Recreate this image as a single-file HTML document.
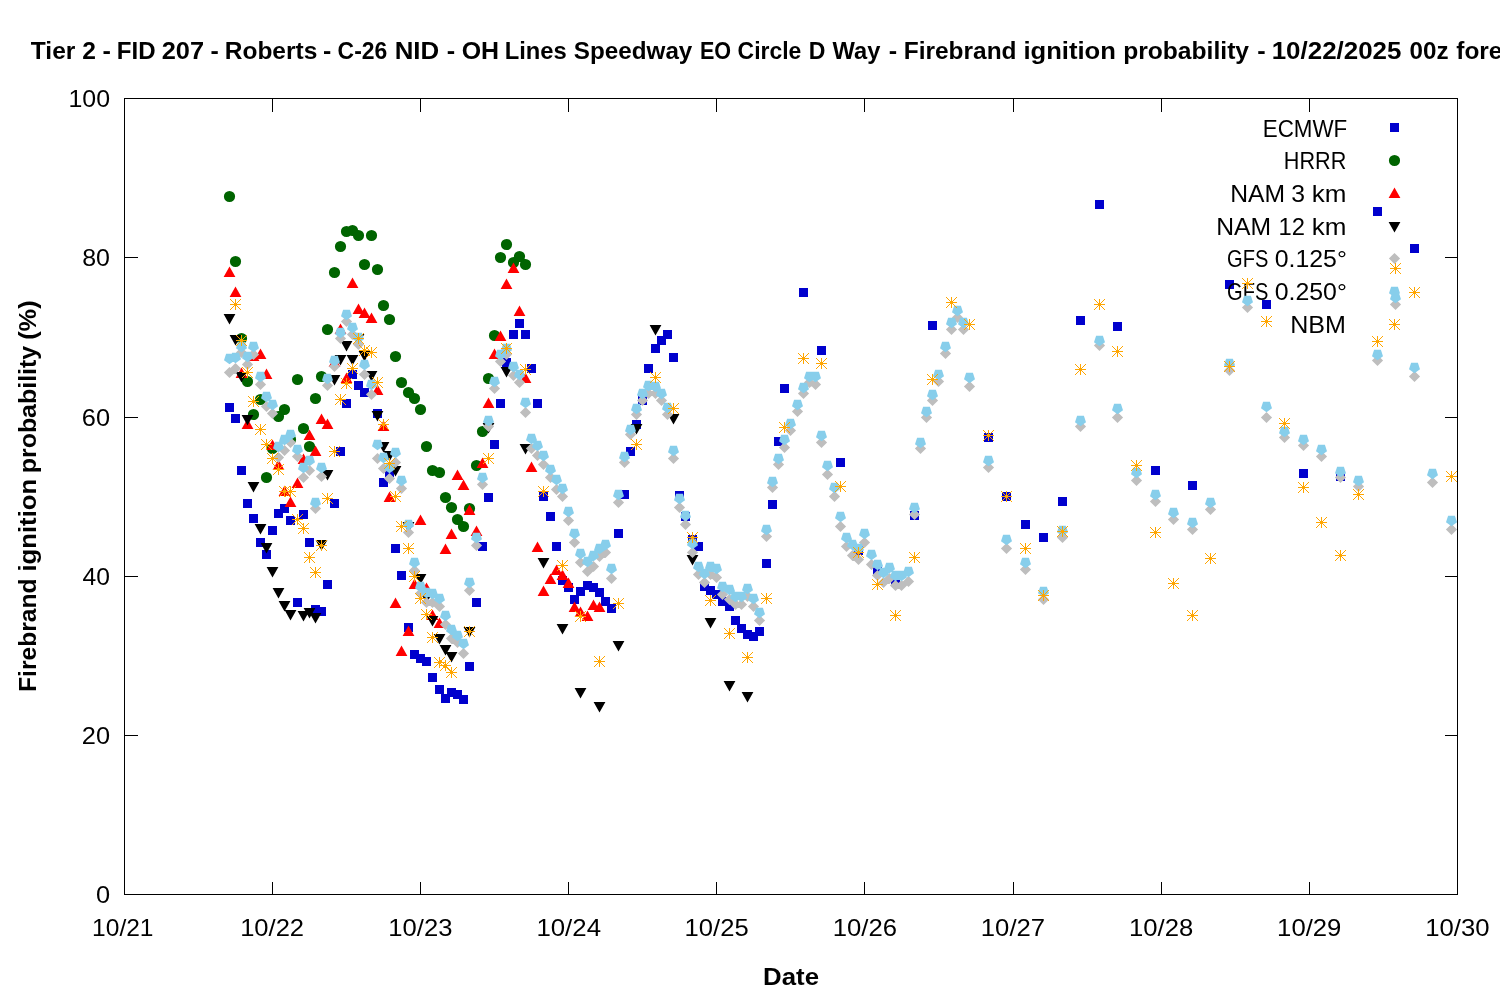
<!DOCTYPE html>
<html lang="en"><head><meta charset="utf-8"><title>Firebrand ignition probability</title>
<style>html,body{margin:0;padding:0;background:#fff;}body{width:1500px;height:1000px;overflow:hidden;}svg{display:block;}text{font-family:'Liberation Sans', sans-serif;fill:#000;}</style>
</head><body>
<svg width="1500" height="1000" viewBox="0 0 1500 1000">
<rect x="0" y="0" width="1500" height="1000" fill="#ffffff"/>
<g stroke="#000" stroke-width="1" fill="none" shape-rendering="crispEdges">
<rect x="124.5" y="98.5" width="1333.0" height="796.0"/>
<path d="M272.5,894.5 v-13 M272.5,98.5 v13 M420.5,894.5 v-13 M420.5,98.5 v13 M568.5,894.5 v-13 M568.5,98.5 v13 M716.5,894.5 v-13 M716.5,98.5 v13 M864.5,894.5 v-13 M864.5,98.5 v13 M1013.5,894.5 v-13 M1013.5,98.5 v13 M1161.5,894.5 v-13 M1161.5,98.5 v13 M1309.5,894.5 v-13 M1309.5,98.5 v13 M124.5,735.5 h13 M1457.5,735.5 h-13 M124.5,576.5 h13 M1457.5,576.5 h-13 M124.5,417.5 h13 M1457.5,417.5 h-13 M124.5,257.5 h13 M1457.5,257.5 h-13"/>
</g>
<text x="95.91" y="903.30" font-size="23.6" textLength="14.13" lengthAdjust="spacingAndGlyphs">0</text>
<text x="81.81" y="744.30" font-size="23.6" textLength="28.22" lengthAdjust="spacingAndGlyphs">20</text>
<text x="82.62" y="585.30" font-size="23.6" textLength="27.40" lengthAdjust="spacingAndGlyphs">40</text>
<text x="81.81" y="426.30" font-size="23.6" textLength="28.22" lengthAdjust="spacingAndGlyphs">60</text>
<text x="82.22" y="266.30" font-size="23.6" textLength="27.80" lengthAdjust="spacingAndGlyphs">80</text>
<text x="68.44" y="107.30" font-size="23.6" textLength="41.58" lengthAdjust="spacingAndGlyphs">100</text>
<text x="92.09" y="936.20" font-size="23.6" textLength="61.43" lengthAdjust="spacingAndGlyphs">10/21</text>
<text x="240.16" y="936.20" font-size="23.6" textLength="63.93" lengthAdjust="spacingAndGlyphs">10/22</text>
<text x="388.30" y="936.20" font-size="23.6" textLength="64.14" lengthAdjust="spacingAndGlyphs">10/23</text>
<text x="536.42" y="936.20" font-size="23.6" textLength="64.61" lengthAdjust="spacingAndGlyphs">10/24</text>
<text x="684.58" y="936.20" font-size="23.6" textLength="64.04" lengthAdjust="spacingAndGlyphs">10/25</text>
<text x="832.71" y="936.20" font-size="23.6" textLength="64.25" lengthAdjust="spacingAndGlyphs">10/26</text>
<text x="980.85" y="936.20" font-size="23.6" textLength="64.25" lengthAdjust="spacingAndGlyphs">10/27</text>
<text x="1128.99" y="936.20" font-size="23.6" textLength="64.25" lengthAdjust="spacingAndGlyphs">10/28</text>
<text x="1277.12" y="936.20" font-size="23.6" textLength="64.25" lengthAdjust="spacingAndGlyphs">10/29</text>
<text x="1425.26" y="936.20" font-size="23.6" textLength="64.35" lengthAdjust="spacingAndGlyphs">10/30</text>
<text y="58.50" font-size="24.3" font-weight="bold"><tspan x="30.80" textLength="44.55" lengthAdjust="spacingAndGlyphs">Tier</tspan> <tspan x="82.23" textLength="13.68" lengthAdjust="spacingAndGlyphs">2</tspan> <tspan x="102.51" textLength="8.40" lengthAdjust="spacingAndGlyphs">-</tspan> <tspan x="116.80" textLength="38.74" lengthAdjust="spacingAndGlyphs">FID</tspan> <tspan x="161.71" textLength="42.32" lengthAdjust="spacingAndGlyphs">207</tspan> <tspan x="210.42" textLength="8.27" lengthAdjust="spacingAndGlyphs">-</tspan> <tspan x="224.77" textLength="92.52" lengthAdjust="spacingAndGlyphs">Roberts</tspan> <tspan x="322.92" textLength="8.27" lengthAdjust="spacingAndGlyphs">-</tspan> <tspan x="337.58" textLength="49.69" lengthAdjust="spacingAndGlyphs">C-26</tspan> <tspan x="394.68" textLength="44.51" lengthAdjust="spacingAndGlyphs">NID</tspan> <tspan x="446.71" textLength="8.40" lengthAdjust="spacingAndGlyphs">-</tspan> <tspan x="461.72" textLength="37.42" lengthAdjust="spacingAndGlyphs">OH</tspan> <tspan x="504.72" textLength="62.05" lengthAdjust="spacingAndGlyphs">Lines</tspan> <tspan x="573.82" textLength="118.52" lengthAdjust="spacingAndGlyphs">Speedway</tspan> <tspan x="699.95" textLength="31.15" lengthAdjust="spacingAndGlyphs">EO</tspan> <tspan x="737.58" textLength="63.79" lengthAdjust="spacingAndGlyphs">Circle</tspan> <tspan x="808.86" textLength="16.64" lengthAdjust="spacingAndGlyphs">D</tspan> <tspan x="832.50" textLength="47.85" lengthAdjust="spacingAndGlyphs">Way</tspan> <tspan x="888.71" textLength="8.40" lengthAdjust="spacingAndGlyphs">-</tspan> <tspan x="903.77" textLength="112.79" lengthAdjust="spacingAndGlyphs">Firebrand</tspan> <tspan x="1023.40" textLength="92.54" lengthAdjust="spacingAndGlyphs">ignition</tspan> <tspan x="1123.16" textLength="125.88" lengthAdjust="spacingAndGlyphs">probability</tspan> <tspan x="1257.21" textLength="8.40" lengthAdjust="spacingAndGlyphs">-</tspan> <tspan x="1271.68" textLength="129.77" lengthAdjust="spacingAndGlyphs">10/22/2025</tspan> <tspan x="1409.54" textLength="39.01" lengthAdjust="spacingAndGlyphs">00z</tspan> <tspan x="1456.32" textLength="95.00" lengthAdjust="spacingAndGlyphs">forecast</tspan></text>
<text x="763.09" y="984.90" font-size="24.3" font-weight="bold" textLength="55.96" lengthAdjust="spacingAndGlyphs">Date</text>
<g transform="translate(36,0) rotate(-90)">
<text y="0.00" font-size="24.3" font-weight="bold"><tspan x="-691.94" textLength="113.51" lengthAdjust="spacingAndGlyphs">Firebrand</tspan> <tspan x="-571.61" textLength="92.85" lengthAdjust="spacingAndGlyphs">ignition</tspan> <tspan x="-473.26" textLength="127.40" lengthAdjust="spacingAndGlyphs">probability</tspan> <tspan x="-339.89" textLength="39.51" lengthAdjust="spacingAndGlyphs">(%)</tspan></text>
</g>
<text x="1262.75" y="136.80" font-size="23.6" textLength="84.48" lengthAdjust="spacingAndGlyphs">ECMWF</text>
<path fill="#0000cd" d="M1390,123h9v9h-9zM225,403h9v9h-9zM231,414h9v9h-9zM237,466h9v9h-9zM243,499h9v9h-9zM249,514h9v9h-9zM256,538h9v9h-9zM262,550h9v9h-9zM268,526h9v9h-9zM274,509h9v9h-9zM280,504h9v9h-9zM286,516h9v9h-9zM293,598h9v9h-9zM299,510h9v9h-9zM305,538h9v9h-9zM311,605h9v9h-9zM317,607h9v9h-9zM323,580h9v9h-9zM330,499h9v9h-9zM336,447h9v9h-9zM342,399h9v9h-9zM348,370h9v9h-9zM354,381h9v9h-9zM360,388h9v9h-9zM373,409h9v9h-9zM379,478h9v9h-9zM385,468h9v9h-9zM391,544h9v9h-9zM397,571h9v9h-9zM404,623h9v9h-9zM410,650h9v9h-9zM416,654h9v9h-9zM422,657h9v9h-9zM428,673h9v9h-9zM435,685h9v9h-9zM441,694h9v9h-9zM447,688h9v9h-9zM453,690h9v9h-9zM459,695h9v9h-9zM465,662h9v9h-9zM472,598h9v9h-9zM478,542h9v9h-9zM484,493h9v9h-9zM490,440h9v9h-9zM496,399h9v9h-9zM502,358h9v9h-9zM509,330h9v9h-9zM515,319h9v9h-9zM521,330h9v9h-9zM527,364h9v9h-9zM533,399h9v9h-9zM539,492h9v9h-9zM546,512h9v9h-9zM552,542h9v9h-9zM558,576h9v9h-9zM564,583h9v9h-9zM570,595h9v9h-9zM576,587h9v9h-9zM583,581h9v9h-9zM589,583h9v9h-9zM595,588h9v9h-9zM601,597h9v9h-9zM607,604h9v9h-9zM614,529h9v9h-9zM620,490h9v9h-9zM626,447h9v9h-9zM632,420h9v9h-9zM638,396h9v9h-9zM644,364h9v9h-9zM651,344h9v9h-9zM657,336h9v9h-9zM663,330h9v9h-9zM669,353h9v9h-9zM675,491h9v9h-9zM681,512h9v9h-9zM688,535h9v9h-9zM694,542h9v9h-9zM700,582h9v9h-9zM706,586h9v9h-9zM712,590h9v9h-9zM718,597h9v9h-9zM725,602h9v9h-9zM731,616h9v9h-9zM737,624h9v9h-9zM743,630h9v9h-9zM749,632h9v9h-9zM755,627h9v9h-9zM762,559h9v9h-9zM768,500h9v9h-9zM774,437h9v9h-9zM780,384h9v9h-9zM799,288h9v9h-9zM817,346h9v9h-9zM836,458h9v9h-9zM854,546h9v9h-9zM873,566h9v9h-9zM891,576h9v9h-9zM910,511h9v9h-9zM928,321h9v9h-9zM984,433h9v9h-9zM1002,492h9v9h-9zM1021,520h9v9h-9zM1039,533h9v9h-9zM1058,497h9v9h-9zM1076,316h9v9h-9zM1095,200h9v9h-9zM1113,322h9v9h-9zM1151,466h9v9h-9zM1188,481h9v9h-9zM1225,280h9v9h-9zM1262,300h9v9h-9zM1299,469h9v9h-9zM1336,472h9v9h-9zM1373,207h9v9h-9zM1410,244h9v9h-9z"/>
<text x="1283.81" y="169.45" font-size="23.6" textLength="62.44" lengthAdjust="spacingAndGlyphs">HRRR</text>
<path fill="#006400" d="M1388.9,160.5a5.6,5.6 0 1,0 11.2,0a5.6,5.6 0 1,0 -11.2,0zM223.9,196.5a5.6,5.6 0 1,0 11.2,0a5.6,5.6 0 1,0 -11.2,0zM229.9,261.5a5.6,5.6 0 1,0 11.2,0a5.6,5.6 0 1,0 -11.2,0zM235.9,338.5a5.6,5.6 0 1,0 11.2,0a5.6,5.6 0 1,0 -11.2,0zM241.9,381.5a5.6,5.6 0 1,0 11.2,0a5.6,5.6 0 1,0 -11.2,0zM247.9,414.5a5.6,5.6 0 1,0 11.2,0a5.6,5.6 0 1,0 -11.2,0zM254.9,399.5a5.6,5.6 0 1,0 11.2,0a5.6,5.6 0 1,0 -11.2,0zM260.9,477.5a5.6,5.6 0 1,0 11.2,0a5.6,5.6 0 1,0 -11.2,0zM266.9,448.5a5.6,5.6 0 1,0 11.2,0a5.6,5.6 0 1,0 -11.2,0zM272.9,416.5a5.6,5.6 0 1,0 11.2,0a5.6,5.6 0 1,0 -11.2,0zM278.9,409.5a5.6,5.6 0 1,0 11.2,0a5.6,5.6 0 1,0 -11.2,0zM284.9,439.5a5.6,5.6 0 1,0 11.2,0a5.6,5.6 0 1,0 -11.2,0zM291.9,379.5a5.6,5.6 0 1,0 11.2,0a5.6,5.6 0 1,0 -11.2,0zM297.9,428.5a5.6,5.6 0 1,0 11.2,0a5.6,5.6 0 1,0 -11.2,0zM303.9,446.5a5.6,5.6 0 1,0 11.2,0a5.6,5.6 0 1,0 -11.2,0zM309.9,398.5a5.6,5.6 0 1,0 11.2,0a5.6,5.6 0 1,0 -11.2,0zM315.9,376.5a5.6,5.6 0 1,0 11.2,0a5.6,5.6 0 1,0 -11.2,0zM321.9,329.5a5.6,5.6 0 1,0 11.2,0a5.6,5.6 0 1,0 -11.2,0zM328.9,272.5a5.6,5.6 0 1,0 11.2,0a5.6,5.6 0 1,0 -11.2,0zM334.9,246.5a5.6,5.6 0 1,0 11.2,0a5.6,5.6 0 1,0 -11.2,0zM340.9,231.5a5.6,5.6 0 1,0 11.2,0a5.6,5.6 0 1,0 -11.2,0zM346.9,230.5a5.6,5.6 0 1,0 11.2,0a5.6,5.6 0 1,0 -11.2,0zM352.9,235.5a5.6,5.6 0 1,0 11.2,0a5.6,5.6 0 1,0 -11.2,0zM358.9,264.5a5.6,5.6 0 1,0 11.2,0a5.6,5.6 0 1,0 -11.2,0zM365.9,235.5a5.6,5.6 0 1,0 11.2,0a5.6,5.6 0 1,0 -11.2,0zM371.9,269.5a5.6,5.6 0 1,0 11.2,0a5.6,5.6 0 1,0 -11.2,0zM377.9,305.5a5.6,5.6 0 1,0 11.2,0a5.6,5.6 0 1,0 -11.2,0zM383.9,319.5a5.6,5.6 0 1,0 11.2,0a5.6,5.6 0 1,0 -11.2,0zM389.9,356.5a5.6,5.6 0 1,0 11.2,0a5.6,5.6 0 1,0 -11.2,0zM395.9,382.5a5.6,5.6 0 1,0 11.2,0a5.6,5.6 0 1,0 -11.2,0zM402.9,392.5a5.6,5.6 0 1,0 11.2,0a5.6,5.6 0 1,0 -11.2,0zM408.9,398.5a5.6,5.6 0 1,0 11.2,0a5.6,5.6 0 1,0 -11.2,0zM414.9,409.5a5.6,5.6 0 1,0 11.2,0a5.6,5.6 0 1,0 -11.2,0zM420.9,446.5a5.6,5.6 0 1,0 11.2,0a5.6,5.6 0 1,0 -11.2,0zM426.9,470.5a5.6,5.6 0 1,0 11.2,0a5.6,5.6 0 1,0 -11.2,0zM433.9,472.5a5.6,5.6 0 1,0 11.2,0a5.6,5.6 0 1,0 -11.2,0zM439.9,497.5a5.6,5.6 0 1,0 11.2,0a5.6,5.6 0 1,0 -11.2,0zM445.9,507.5a5.6,5.6 0 1,0 11.2,0a5.6,5.6 0 1,0 -11.2,0zM451.9,519.5a5.6,5.6 0 1,0 11.2,0a5.6,5.6 0 1,0 -11.2,0zM457.9,526.5a5.6,5.6 0 1,0 11.2,0a5.6,5.6 0 1,0 -11.2,0zM463.9,508.5a5.6,5.6 0 1,0 11.2,0a5.6,5.6 0 1,0 -11.2,0zM470.9,465.5a5.6,5.6 0 1,0 11.2,0a5.6,5.6 0 1,0 -11.2,0zM476.9,431.5a5.6,5.6 0 1,0 11.2,0a5.6,5.6 0 1,0 -11.2,0zM482.9,378.5a5.6,5.6 0 1,0 11.2,0a5.6,5.6 0 1,0 -11.2,0zM488.9,335.5a5.6,5.6 0 1,0 11.2,0a5.6,5.6 0 1,0 -11.2,0zM494.9,257.5a5.6,5.6 0 1,0 11.2,0a5.6,5.6 0 1,0 -11.2,0zM500.9,244.5a5.6,5.6 0 1,0 11.2,0a5.6,5.6 0 1,0 -11.2,0zM507.9,262.5a5.6,5.6 0 1,0 11.2,0a5.6,5.6 0 1,0 -11.2,0zM513.9,256.5a5.6,5.6 0 1,0 11.2,0a5.6,5.6 0 1,0 -11.2,0zM519.9,264.5a5.6,5.6 0 1,0 11.2,0a5.6,5.6 0 1,0 -11.2,0z"/>
<text y="202.10" font-size="23.6"><tspan x="1230.27" textLength="54.89" lengthAdjust="spacingAndGlyphs">NAM</tspan> <tspan x="1291.23" textLength="13.78" lengthAdjust="spacingAndGlyphs">3</tspan> <tspan x="1311.87" textLength="34.67" lengthAdjust="spacingAndGlyphs">km</tspan></text>
<path fill="#ff0000" d="M1394.5,187.6l5.9,10.4h-11.8zM229.5,266.6l5.9,10.4h-11.8zM235.5,286.6l5.9,10.4h-11.8zM241.5,367.6l5.9,10.4h-11.8zM247.5,418.6l5.9,10.4h-11.8zM253.5,350.6l5.9,10.4h-11.8zM260.5,348.6l5.9,10.4h-11.8zM266.5,368.6l5.9,10.4h-11.8zM272.5,439.6l5.9,10.4h-11.8zM278.5,459.6l5.9,10.4h-11.8zM284.5,485.6l5.9,10.4h-11.8zM290.5,496.6l5.9,10.4h-11.8zM297.5,477.6l5.9,10.4h-11.8zM303.5,453.6l5.9,10.4h-11.8zM309.5,429.6l5.9,10.4h-11.8zM315.5,445.6l5.9,10.4h-11.8zM321.5,413.6l5.9,10.4h-11.8zM327.5,418.6l5.9,10.4h-11.8zM334.5,356.6l5.9,10.4h-11.8zM340.5,323.6l5.9,10.4h-11.8zM346.5,372.6l5.9,10.4h-11.8zM352.5,277.6l5.9,10.4h-11.8zM358.5,303.6l5.9,10.4h-11.8zM364.5,307.6l5.9,10.4h-11.8zM371.5,312.6l5.9,10.4h-11.8zM377.5,384.6l5.9,10.4h-11.8zM383.5,420.6l5.9,10.4h-11.8zM389.5,491.6l5.9,10.4h-11.8zM395.5,597.6l5.9,10.4h-11.8zM401.5,645.6l5.9,10.4h-11.8zM408.5,625.6l5.9,10.4h-11.8zM414.5,578.6l5.9,10.4h-11.8zM420.5,514.6l5.9,10.4h-11.8zM426.5,582.6l5.9,10.4h-11.8zM432.5,609.6l5.9,10.4h-11.8zM439.5,617.6l5.9,10.4h-11.8zM445.5,543.6l5.9,10.4h-11.8zM451.5,528.6l5.9,10.4h-11.8zM457.5,469.6l5.9,10.4h-11.8zM463.5,479.6l5.9,10.4h-11.8zM469.5,504.6l5.9,10.4h-11.8zM476.5,525.6l5.9,10.4h-11.8zM482.5,457.6l5.9,10.4h-11.8zM488.5,397.6l5.9,10.4h-11.8zM494.5,348.6l5.9,10.4h-11.8zM500.5,330.6l5.9,10.4h-11.8zM506.5,278.6l5.9,10.4h-11.8zM513.5,262.6l5.9,10.4h-11.8zM519.5,305.6l5.9,10.4h-11.8zM525.5,372.6l5.9,10.4h-11.8zM531.5,461.6l5.9,10.4h-11.8zM537.5,541.6l5.9,10.4h-11.8zM543.5,585.6l5.9,10.4h-11.8zM550.5,573.6l5.9,10.4h-11.8zM556.5,564.6l5.9,10.4h-11.8zM562.5,569.6l5.9,10.4h-11.8zM568.5,577.6l5.9,10.4h-11.8zM574.5,601.6l5.9,10.4h-11.8zM580.5,606.6l5.9,10.4h-11.8zM587.5,610.6l5.9,10.4h-11.8zM593.5,599.6l5.9,10.4h-11.8zM599.5,601.6l5.9,10.4h-11.8z"/>
<text y="234.75" font-size="23.6"><tspan x="1216.27" textLength="54.89" lengthAdjust="spacingAndGlyphs">NAM</tspan> <tspan x="1278.51" textLength="26.45" lengthAdjust="spacingAndGlyphs">12</tspan> <tspan x="1311.87" textLength="34.67" lengthAdjust="spacingAndGlyphs">km</tspan></text>
<path fill="#000000" d="M1394.5,232.4l5.9,-10.4h-11.8zM229.5,324.4l5.9,-10.4h-11.8zM235.5,345.4l5.9,-10.4h-11.8zM241.5,382.4l5.9,-10.4h-11.8zM247.5,425.4l5.9,-10.4h-11.8zM253.5,492.4l5.9,-10.4h-11.8zM260.5,534.4l5.9,-10.4h-11.8zM266.5,553.4l5.9,-10.4h-11.8zM272.5,577.4l5.9,-10.4h-11.8zM278.5,598.4l5.9,-10.4h-11.8zM284.5,611.4l5.9,-10.4h-11.8zM290.5,620.4l5.9,-10.4h-11.8zM303.5,621.4l5.9,-10.4h-11.8zM309.5,618.4l5.9,-10.4h-11.8zM315.5,623.4l5.9,-10.4h-11.8zM321.5,550.4l5.9,-10.4h-11.8zM327.5,480.4l5.9,-10.4h-11.8zM334.5,385.4l5.9,-10.4h-11.8zM340.5,365.4l5.9,-10.4h-11.8zM346.5,351.4l5.9,-10.4h-11.8zM352.5,365.4l5.9,-10.4h-11.8zM358.5,344.4l5.9,-10.4h-11.8zM364.5,361.4l5.9,-10.4h-11.8zM371.5,381.4l5.9,-10.4h-11.8zM377.5,421.4l5.9,-10.4h-11.8zM383.5,452.4l5.9,-10.4h-11.8zM389.5,461.4l5.9,-10.4h-11.8zM395.5,476.4l5.9,-10.4h-11.8zM408.5,532.4l5.9,-10.4h-11.8zM420.5,584.4l5.9,-10.4h-11.8zM426.5,603.4l5.9,-10.4h-11.8zM432.5,626.4l5.9,-10.4h-11.8zM439.5,644.4l5.9,-10.4h-11.8zM445.5,655.4l5.9,-10.4h-11.8zM451.5,662.4l5.9,-10.4h-11.8zM469.5,637.4l5.9,-10.4h-11.8zM488.5,433.4l5.9,-10.4h-11.8zM506.5,377.4l5.9,-10.4h-11.8zM525.5,454.4l5.9,-10.4h-11.8zM543.5,568.4l5.9,-10.4h-11.8zM562.5,634.4l5.9,-10.4h-11.8zM580.5,698.4l5.9,-10.4h-11.8zM599.5,712.4l5.9,-10.4h-11.8zM618.5,651.4l5.9,-10.4h-11.8zM636.5,434.4l5.9,-10.4h-11.8zM655.5,335.4l5.9,-10.4h-11.8zM673.5,424.4l5.9,-10.4h-11.8zM692.5,565.4l5.9,-10.4h-11.8zM710.5,628.4l5.9,-10.4h-11.8zM729.5,691.4l5.9,-10.4h-11.8zM747.5,702.4l5.9,-10.4h-11.8z"/>
<text y="267.40" font-size="23.6"><tspan x="1227.06" textLength="41.28" lengthAdjust="spacingAndGlyphs">GFS</tspan> <tspan x="1274.72" textLength="72.17" lengthAdjust="spacingAndGlyphs">0.125°</tspan></text>
<path fill="#bebebe" d="M1394.5,252.9l5.6,5.6l-5.6,5.6l-5.6,-5.6zM229.5,366.9l5.6,5.6l-5.6,5.6l-5.6,-5.6zM235.5,362.9l5.6,5.6l-5.6,5.6l-5.6,-5.6zM241.5,346.9l5.6,5.6l-5.6,5.6l-5.6,-5.6zM247.5,358.9l5.6,5.6l-5.6,5.6l-5.6,-5.6zM253.5,348.9l5.6,5.6l-5.6,5.6l-5.6,-5.6zM260.5,378.9l5.6,5.6l-5.6,5.6l-5.6,-5.6zM266.5,400.9l5.6,5.6l-5.6,5.6l-5.6,-5.6zM272.5,407.9l5.6,5.6l-5.6,5.6l-5.6,-5.6zM278.5,451.9l5.6,5.6l-5.6,5.6l-5.6,-5.6zM284.5,444.9l5.6,5.6l-5.6,5.6l-5.6,-5.6zM290.5,436.9l5.6,5.6l-5.6,5.6l-5.6,-5.6zM297.5,450.9l5.6,5.6l-5.6,5.6l-5.6,-5.6zM303.5,471.9l5.6,5.6l-5.6,5.6l-5.6,-5.6zM309.5,464.9l5.6,5.6l-5.6,5.6l-5.6,-5.6zM315.5,502.9l5.6,5.6l-5.6,5.6l-5.6,-5.6zM321.5,470.9l5.6,5.6l-5.6,5.6l-5.6,-5.6zM327.5,379.9l5.6,5.6l-5.6,5.6l-5.6,-5.6zM334.5,360.9l5.6,5.6l-5.6,5.6l-5.6,-5.6zM340.5,332.9l5.6,5.6l-5.6,5.6l-5.6,-5.6zM346.5,315.9l5.6,5.6l-5.6,5.6l-5.6,-5.6zM352.5,328.9l5.6,5.6l-5.6,5.6l-5.6,-5.6zM358.5,338.9l5.6,5.6l-5.6,5.6l-5.6,-5.6zM364.5,368.9l5.6,5.6l-5.6,5.6l-5.6,-5.6zM371.5,388.9l5.6,5.6l-5.6,5.6l-5.6,-5.6zM377.5,452.9l5.6,5.6l-5.6,5.6l-5.6,-5.6zM383.5,462.9l5.6,5.6l-5.6,5.6l-5.6,-5.6zM389.5,472.9l5.6,5.6l-5.6,5.6l-5.6,-5.6zM395.5,456.9l5.6,5.6l-5.6,5.6l-5.6,-5.6zM401.5,482.9l5.6,5.6l-5.6,5.6l-5.6,-5.6zM408.5,526.9l5.6,5.6l-5.6,5.6l-5.6,-5.6zM414.5,564.9l5.6,5.6l-5.6,5.6l-5.6,-5.6zM420.5,587.9l5.6,5.6l-5.6,5.6l-5.6,-5.6zM426.5,596.9l5.6,5.6l-5.6,5.6l-5.6,-5.6zM432.5,596.9l5.6,5.6l-5.6,5.6l-5.6,-5.6zM439.5,600.9l5.6,5.6l-5.6,5.6l-5.6,-5.6zM445.5,618.9l5.6,5.6l-5.6,5.6l-5.6,-5.6zM451.5,632.9l5.6,5.6l-5.6,5.6l-5.6,-5.6zM457.5,636.9l5.6,5.6l-5.6,5.6l-5.6,-5.6zM463.5,647.9l5.6,5.6l-5.6,5.6l-5.6,-5.6zM469.5,584.9l5.6,5.6l-5.6,5.6l-5.6,-5.6zM476.5,539.9l5.6,5.6l-5.6,5.6l-5.6,-5.6zM482.5,478.9l5.6,5.6l-5.6,5.6l-5.6,-5.6zM488.5,420.9l5.6,5.6l-5.6,5.6l-5.6,-5.6zM494.5,382.9l5.6,5.6l-5.6,5.6l-5.6,-5.6zM500.5,355.9l5.6,5.6l-5.6,5.6l-5.6,-5.6zM506.5,348.9l5.6,5.6l-5.6,5.6l-5.6,-5.6zM513.5,369.9l5.6,5.6l-5.6,5.6l-5.6,-5.6zM519.5,376.9l5.6,5.6l-5.6,5.6l-5.6,-5.6zM525.5,406.9l5.6,5.6l-5.6,5.6l-5.6,-5.6zM531.5,442.9l5.6,5.6l-5.6,5.6l-5.6,-5.6zM537.5,449.9l5.6,5.6l-5.6,5.6l-5.6,-5.6zM543.5,458.9l5.6,5.6l-5.6,5.6l-5.6,-5.6zM550.5,471.9l5.6,5.6l-5.6,5.6l-5.6,-5.6zM556.5,483.9l5.6,5.6l-5.6,5.6l-5.6,-5.6zM562.5,490.9l5.6,5.6l-5.6,5.6l-5.6,-5.6zM568.5,514.9l5.6,5.6l-5.6,5.6l-5.6,-5.6zM574.5,536.9l5.6,5.6l-5.6,5.6l-5.6,-5.6zM580.5,556.9l5.6,5.6l-5.6,5.6l-5.6,-5.6zM587.5,565.9l5.6,5.6l-5.6,5.6l-5.6,-5.6zM593.5,560.9l5.6,5.6l-5.6,5.6l-5.6,-5.6zM599.5,550.9l5.6,5.6l-5.6,5.6l-5.6,-5.6zM605.5,546.9l5.6,5.6l-5.6,5.6l-5.6,-5.6zM611.5,572.9l5.6,5.6l-5.6,5.6l-5.6,-5.6zM618.5,496.9l5.6,5.6l-5.6,5.6l-5.6,-5.6zM624.5,456.9l5.6,5.6l-5.6,5.6l-5.6,-5.6zM630.5,428.9l5.6,5.6l-5.6,5.6l-5.6,-5.6zM636.5,408.9l5.6,5.6l-5.6,5.6l-5.6,-5.6zM642.5,394.9l5.6,5.6l-5.6,5.6l-5.6,-5.6zM648.5,387.9l5.6,5.6l-5.6,5.6l-5.6,-5.6zM655.5,387.9l5.6,5.6l-5.6,5.6l-5.6,-5.6zM661.5,394.9l5.6,5.6l-5.6,5.6l-5.6,-5.6zM667.5,408.9l5.6,5.6l-5.6,5.6l-5.6,-5.6zM673.5,452.9l5.6,5.6l-5.6,5.6l-5.6,-5.6zM679.5,501.9l5.6,5.6l-5.6,5.6l-5.6,-5.6zM685.5,518.9l5.6,5.6l-5.6,5.6l-5.6,-5.6zM692.5,546.9l5.6,5.6l-5.6,5.6l-5.6,-5.6zM698.5,568.9l5.6,5.6l-5.6,5.6l-5.6,-5.6zM704.5,576.9l5.6,5.6l-5.6,5.6l-5.6,-5.6zM710.5,568.9l5.6,5.6l-5.6,5.6l-5.6,-5.6zM716.5,571.9l5.6,5.6l-5.6,5.6l-5.6,-5.6zM722.5,588.9l5.6,5.6l-5.6,5.6l-5.6,-5.6zM729.5,593.9l5.6,5.6l-5.6,5.6l-5.6,-5.6zM735.5,598.9l5.6,5.6l-5.6,5.6l-5.6,-5.6zM741.5,598.9l5.6,5.6l-5.6,5.6l-5.6,-5.6zM747.5,590.9l5.6,5.6l-5.6,5.6l-5.6,-5.6zM753.5,600.9l5.6,5.6l-5.6,5.6l-5.6,-5.6zM759.5,614.9l5.6,5.6l-5.6,5.6l-5.6,-5.6zM766.5,530.9l5.6,5.6l-5.6,5.6l-5.6,-5.6zM772.5,481.9l5.6,5.6l-5.6,5.6l-5.6,-5.6zM778.5,458.9l5.6,5.6l-5.6,5.6l-5.6,-5.6zM784.5,441.9l5.6,5.6l-5.6,5.6l-5.6,-5.6zM790.5,424.9l5.6,5.6l-5.6,5.6l-5.6,-5.6zM797.5,405.9l5.6,5.6l-5.6,5.6l-5.6,-5.6zM803.5,387.9l5.6,5.6l-5.6,5.6l-5.6,-5.6zM809.5,376.9l5.6,5.6l-5.6,5.6l-5.6,-5.6zM815.5,378.9l5.6,5.6l-5.6,5.6l-5.6,-5.6zM821.5,436.9l5.6,5.6l-5.6,5.6l-5.6,-5.6zM827.5,468.9l5.6,5.6l-5.6,5.6l-5.6,-5.6zM834.5,490.9l5.6,5.6l-5.6,5.6l-5.6,-5.6zM840.5,520.9l5.6,5.6l-5.6,5.6l-5.6,-5.6zM846.5,540.9l5.6,5.6l-5.6,5.6l-5.6,-5.6zM852.5,549.9l5.6,5.6l-5.6,5.6l-5.6,-5.6zM858.5,553.9l5.6,5.6l-5.6,5.6l-5.6,-5.6zM864.5,536.9l5.6,5.6l-5.6,5.6l-5.6,-5.6zM871.5,558.9l5.6,5.6l-5.6,5.6l-5.6,-5.6zM877.5,569.9l5.6,5.6l-5.6,5.6l-5.6,-5.6zM883.5,576.9l5.6,5.6l-5.6,5.6l-5.6,-5.6zM889.5,572.9l5.6,5.6l-5.6,5.6l-5.6,-5.6zM895.5,579.9l5.6,5.6l-5.6,5.6l-5.6,-5.6zM901.5,579.9l5.6,5.6l-5.6,5.6l-5.6,-5.6zM908.5,575.9l5.6,5.6l-5.6,5.6l-5.6,-5.6zM914.5,508.9l5.6,5.6l-5.6,5.6l-5.6,-5.6zM920.5,442.9l5.6,5.6l-5.6,5.6l-5.6,-5.6zM926.5,411.9l5.6,5.6l-5.6,5.6l-5.6,-5.6zM932.5,394.9l5.6,5.6l-5.6,5.6l-5.6,-5.6zM938.5,375.9l5.6,5.6l-5.6,5.6l-5.6,-5.6zM945.5,347.9l5.6,5.6l-5.6,5.6l-5.6,-5.6zM951.5,323.9l5.6,5.6l-5.6,5.6l-5.6,-5.6zM957.5,311.9l5.6,5.6l-5.6,5.6l-5.6,-5.6zM963.5,323.9l5.6,5.6l-5.6,5.6l-5.6,-5.6zM969.5,380.9l5.6,5.6l-5.6,5.6l-5.6,-5.6zM988.5,461.9l5.6,5.6l-5.6,5.6l-5.6,-5.6zM1006.5,542.9l5.6,5.6l-5.6,5.6l-5.6,-5.6zM1025.5,563.9l5.6,5.6l-5.6,5.6l-5.6,-5.6zM1043.5,593.9l5.6,5.6l-5.6,5.6l-5.6,-5.6zM1062.5,531.9l5.6,5.6l-5.6,5.6l-5.6,-5.6zM1080.5,420.9l5.6,5.6l-5.6,5.6l-5.6,-5.6zM1099.5,339.9l5.6,5.6l-5.6,5.6l-5.6,-5.6zM1117.5,411.9l5.6,5.6l-5.6,5.6l-5.6,-5.6zM1136.5,474.9l5.6,5.6l-5.6,5.6l-5.6,-5.6zM1155.5,495.9l5.6,5.6l-5.6,5.6l-5.6,-5.6zM1173.5,513.9l5.6,5.6l-5.6,5.6l-5.6,-5.6zM1192.5,523.9l5.6,5.6l-5.6,5.6l-5.6,-5.6zM1210.5,503.9l5.6,5.6l-5.6,5.6l-5.6,-5.6zM1229.5,364.9l5.6,5.6l-5.6,5.6l-5.6,-5.6zM1247.5,301.9l5.6,5.6l-5.6,5.6l-5.6,-5.6zM1266.5,411.9l5.6,5.6l-5.6,5.6l-5.6,-5.6zM1284.5,431.9l5.6,5.6l-5.6,5.6l-5.6,-5.6zM1303.5,439.9l5.6,5.6l-5.6,5.6l-5.6,-5.6zM1321.5,450.9l5.6,5.6l-5.6,5.6l-5.6,-5.6zM1340.5,471.9l5.6,5.6l-5.6,5.6l-5.6,-5.6zM1358.5,480.9l5.6,5.6l-5.6,5.6l-5.6,-5.6zM1377.5,354.9l5.6,5.6l-5.6,5.6l-5.6,-5.6zM1395.5,298.9l5.6,5.6l-5.6,5.6l-5.6,-5.6zM1414.5,370.9l5.6,5.6l-5.6,5.6l-5.6,-5.6zM1432.5,476.9l5.6,5.6l-5.6,5.6l-5.6,-5.6zM1451.5,523.9l5.6,5.6l-5.6,5.6l-5.6,-5.6z"/>
<text y="300.05" font-size="23.6"><tspan x="1227.06" textLength="41.28" lengthAdjust="spacingAndGlyphs">GFS</tspan> <tspan x="1274.72" textLength="72.17" lengthAdjust="spacingAndGlyphs">0.250°</tspan></text>
<path fill="#87ceeb" d="M1397.9,286.82L1391.1,286.82L1389,293.28L1394.5,297.28L1400,293.28zM232.9,353.82L226.1,353.82L224,360.28L229.5,364.28L235,360.28zM238.9,352.82L232.1,352.82L230,359.28L235.5,363.28L241,359.28zM244.9,341.82L238.1,341.82L236,348.28L241.5,352.28L247,348.28zM250.9,351.82L244.1,351.82L242,358.28L247.5,362.28L253,358.28zM256.9,341.82L250.1,341.82L248,348.28L253.5,352.28L259,348.28zM263.9,371.82L257.1,371.82L255,378.28L260.5,382.28L266,378.28zM269.9,391.82L263.1,391.82L261,398.28L266.5,402.28L272,398.28zM275.9,399.82L269.1,399.82L267,406.28L272.5,410.28L278,406.28zM281.9,441.82L275.1,441.82L273,448.28L278.5,452.28L284,448.28zM287.9,434.82L281.1,434.82L279,441.28L284.5,445.28L290,441.28zM293.9,429.82L287.1,429.82L285,436.28L290.5,440.28L296,436.28zM300.9,444.82L294.1,444.82L292,451.28L297.5,455.28L303,451.28zM306.9,462.82L300.1,462.82L298,469.28L303.5,473.28L309,469.28zM312.9,455.82L306.1,455.82L304,462.28L309.5,466.28L315,462.28zM318.9,497.82L312.1,497.82L310,504.28L315.5,508.28L321,504.28zM324.9,462.82L318.1,462.82L316,469.28L321.5,473.28L327,469.28zM330.9,373.82L324.1,373.82L322,380.28L327.5,384.28L333,380.28zM337.9,355.82L331.1,355.82L329,362.28L334.5,366.28L340,362.28zM343.9,327.82L337.1,327.82L335,334.28L340.5,338.28L346,334.28zM349.9,309.82L343.1,309.82L341,316.28L346.5,320.28L352,316.28zM355.9,322.82L349.1,322.82L347,329.28L352.5,333.28L358,329.28zM361.9,332.82L355.1,332.82L353,339.28L358.5,343.28L364,339.28zM367.9,359.82L361.1,359.82L359,366.28L364.5,370.28L370,366.28zM374.9,379.82L368.1,379.82L366,386.28L371.5,390.28L377,386.28zM380.9,439.82L374.1,439.82L372,446.28L377.5,450.28L383,446.28zM386.9,452.82L380.1,452.82L378,459.28L383.5,463.28L389,459.28zM392.9,462.82L386.1,462.82L384,469.28L389.5,473.28L395,469.28zM398.9,447.82L392.1,447.82L390,454.28L395.5,458.28L401,454.28zM404.9,475.82L398.1,475.82L396,482.28L401.5,486.28L407,482.28zM411.9,519.82L405.1,519.82L403,526.28L408.5,530.28L414,526.28zM417.9,557.82L411.1,557.82L409,564.28L414.5,568.28L420,564.28zM423.9,581.82L417.1,581.82L415,588.28L420.5,592.28L426,588.28zM429.9,587.82L423.1,587.82L421,594.28L426.5,598.28L432,594.28zM435.9,588.82L429.1,588.82L427,595.28L432.5,599.28L438,595.28zM442.9,593.82L436.1,593.82L434,600.28L439.5,604.28L445,600.28zM448.9,610.82L442.1,610.82L440,617.28L445.5,621.28L451,617.28zM454.9,624.82L448.1,624.82L446,631.28L451.5,635.28L457,631.28zM460.9,630.82L454.1,630.82L452,637.28L457.5,641.28L463,637.28zM466.9,638.82L460.1,638.82L458,645.28L463.5,649.28L469,645.28zM472.9,577.82L466.1,577.82L464,584.28L469.5,588.28L475,584.28zM479.9,532.82L473.1,532.82L471,539.28L476.5,543.28L482,539.28zM485.9,472.82L479.1,472.82L477,479.28L482.5,483.28L488,479.28zM491.9,415.82L485.1,415.82L483,422.28L488.5,426.28L494,422.28zM497.9,376.82L491.1,376.82L489,383.28L494.5,387.28L500,383.28zM503.9,349.82L497.1,349.82L495,356.28L500.5,360.28L506,356.28zM509.9,343.82L503.1,343.82L501,350.28L506.5,354.28L512,350.28zM516.9,361.82L510.1,361.82L508,368.28L513.5,372.28L519,368.28zM522.9,369.82L516.1,369.82L514,376.28L519.5,380.28L525,376.28zM528.9,397.82L522.1,397.82L520,404.28L525.5,408.28L531,404.28zM534.9,433.82L528.1,433.82L526,440.28L531.5,444.28L537,440.28zM540.9,440.82L534.1,440.82L532,447.28L537.5,451.28L543,447.28zM546.9,450.82L540.1,450.82L538,457.28L543.5,461.28L549,457.28zM553.9,464.82L547.1,464.82L545,471.28L550.5,475.28L556,471.28zM559.9,474.82L553.1,474.82L551,481.28L556.5,485.28L562,481.28zM565.9,483.82L559.1,483.82L557,490.28L562.5,494.28L568,490.28zM571.9,506.82L565.1,506.82L563,513.28L568.5,517.28L574,513.28zM577.9,528.82L571.1,528.82L569,535.28L574.5,539.28L580,535.28zM583.9,548.82L577.1,548.82L575,555.28L580.5,559.28L586,555.28zM590.9,556.82L584.1,556.82L582,563.28L587.5,567.28L593,563.28zM596.9,550.82L590.1,550.82L588,557.28L593.5,561.28L599,557.28zM602.9,543.82L596.1,543.82L594,550.28L599.5,554.28L605,550.28zM608.9,539.82L602.1,539.82L600,546.28L605.5,550.28L611,546.28zM614.9,563.82L608.1,563.82L606,570.28L611.5,574.28L617,570.28zM621.9,489.82L615.1,489.82L613,496.28L618.5,500.28L624,496.28zM627.9,451.82L621.1,451.82L619,458.28L624.5,462.28L630,458.28zM633.9,424.82L627.1,424.82L625,431.28L630.5,435.28L636,431.28zM639.9,403.82L633.1,403.82L631,410.28L636.5,414.28L642,410.28zM645.9,388.82L639.1,388.82L637,395.28L642.5,399.28L648,395.28zM651.9,380.82L645.1,380.82L643,387.28L648.5,391.28L654,387.28zM658.9,381.82L652.1,381.82L650,388.28L655.5,392.28L661,388.28zM664.9,388.82L658.1,388.82L656,395.28L661.5,399.28L667,395.28zM670.9,402.82L664.1,402.82L662,409.28L667.5,413.28L673,409.28zM676.9,445.82L670.1,445.82L668,452.28L673.5,456.28L679,452.28zM682.9,493.82L676.1,493.82L674,500.28L679.5,504.28L685,500.28zM688.9,510.82L682.1,510.82L680,517.28L685.5,521.28L691,517.28zM695.9,538.82L689.1,538.82L687,545.28L692.5,549.28L698,545.28zM701.9,561.82L695.1,561.82L693,568.28L698.5,572.28L704,568.28zM707.9,568.82L701.1,568.82L699,575.28L704.5,579.28L710,575.28zM713.9,561.82L707.1,561.82L705,568.28L710.5,572.28L716,568.28zM719.9,563.82L713.1,563.82L711,570.28L716.5,574.28L722,570.28zM725.9,581.82L719.1,581.82L717,588.28L722.5,592.28L728,588.28zM732.9,584.82L726.1,584.82L724,591.28L729.5,595.28L735,591.28zM738.9,591.82L732.1,591.82L730,598.28L735.5,602.28L741,598.28zM744.9,591.82L738.1,591.82L736,598.28L741.5,602.28L747,598.28zM750.9,583.82L744.1,583.82L742,590.28L747.5,594.28L753,590.28zM756.9,593.82L750.1,593.82L748,600.28L753.5,604.28L759,600.28zM762.9,607.82L756.1,607.82L754,614.28L759.5,618.28L765,614.28zM769.9,524.82L763.1,524.82L761,531.28L766.5,535.28L772,531.28zM775.9,476.82L769.1,476.82L767,483.28L772.5,487.28L778,483.28zM781.9,453.82L775.1,453.82L773,460.28L778.5,464.28L784,460.28zM787.9,434.82L781.1,434.82L779,441.28L784.5,445.28L790,441.28zM793.9,418.82L787.1,418.82L785,425.28L790.5,429.28L796,425.28zM800.9,399.82L794.1,399.82L792,406.28L797.5,410.28L803,406.28zM806.9,382.82L800.1,382.82L798,389.28L803.5,393.28L809,389.28zM812.9,371.82L806.1,371.82L804,378.28L809.5,382.28L815,378.28zM818.9,371.82L812.1,371.82L810,378.28L815.5,382.28L821,378.28zM824.9,430.82L818.1,430.82L816,437.28L821.5,441.28L827,437.28zM830.9,460.82L824.1,460.82L822,467.28L827.5,471.28L833,467.28zM837.9,482.82L831.1,482.82L829,489.28L834.5,493.28L840,489.28zM843.9,511.82L837.1,511.82L835,518.28L840.5,522.28L846,518.28zM849.9,532.82L843.1,532.82L841,539.28L846.5,543.28L852,539.28zM855.9,539.82L849.1,539.82L847,546.28L852.5,550.28L858,546.28zM861.9,543.82L855.1,543.82L853,550.28L858.5,554.28L864,550.28zM867.9,528.82L861.1,528.82L859,535.28L864.5,539.28L870,535.28zM874.9,549.82L868.1,549.82L866,556.28L871.5,560.28L877,556.28zM880.9,559.82L874.1,559.82L872,566.28L877.5,570.28L883,566.28zM886.9,567.82L880.1,567.82L878,574.28L883.5,578.28L889,574.28zM892.9,562.82L886.1,562.82L884,569.28L889.5,573.28L895,569.28zM898.9,570.82L892.1,570.82L890,577.28L895.5,581.28L901,577.28zM904.9,570.82L898.1,570.82L896,577.28L901.5,581.28L907,577.28zM911.9,566.82L905.1,566.82L903,573.28L908.5,577.28L914,573.28zM917.9,502.82L911.1,502.82L909,509.28L914.5,513.28L920,509.28zM923.9,437.82L917.1,437.82L915,444.28L920.5,448.28L926,444.28zM929.9,406.82L923.1,406.82L921,413.28L926.5,417.28L932,413.28zM935.9,389.82L929.1,389.82L927,396.28L932.5,400.28L938,396.28zM941.9,369.82L935.1,369.82L933,376.28L938.5,380.28L944,376.28zM948.9,341.82L942.1,341.82L940,348.28L945.5,352.28L951,348.28zM954.9,317.82L948.1,317.82L946,324.28L951.5,328.28L957,324.28zM960.9,305.82L954.1,305.82L952,312.28L957.5,316.28L963,312.28zM966.9,317.82L960.1,317.82L958,324.28L963.5,328.28L969,324.28zM972.9,372.82L966.1,372.82L964,379.28L969.5,383.28L975,379.28zM991.9,455.82L985.1,455.82L983,462.28L988.5,466.28L994,462.28zM1009.9,534.82L1003.1,534.82L1001,541.28L1006.5,545.28L1012,541.28zM1028.9,557.82L1022.1,557.82L1020,564.28L1025.5,568.28L1031,564.28zM1046.9,586.82L1040.1,586.82L1038,593.28L1043.5,597.28L1049,593.28zM1065.9,525.82L1059.1,525.82L1057,532.28L1062.5,536.28L1068,532.28zM1083.9,415.82L1077.1,415.82L1075,422.28L1080.5,426.28L1086,422.28zM1102.9,335.82L1096.1,335.82L1094,342.28L1099.5,346.28L1105,342.28zM1120.9,403.82L1114.1,403.82L1112,410.28L1117.5,414.28L1123,410.28zM1139.9,467.82L1133.1,467.82L1131,474.28L1136.5,478.28L1142,474.28zM1158.9,489.82L1152.1,489.82L1150,496.28L1155.5,500.28L1161,496.28zM1176.9,507.82L1170.1,507.82L1168,514.28L1173.5,518.28L1179,514.28zM1195.9,517.82L1189.1,517.82L1187,524.28L1192.5,528.28L1198,524.28zM1213.9,497.82L1207.1,497.82L1205,504.28L1210.5,508.28L1216,504.28zM1232.9,358.82L1226.1,358.82L1224,365.28L1229.5,369.28L1235,365.28zM1250.9,295.82L1244.1,295.82L1242,302.28L1247.5,306.28L1253,302.28zM1269.9,401.82L1263.1,401.82L1261,408.28L1266.5,412.28L1272,408.28zM1287.9,426.82L1281.1,426.82L1279,433.28L1284.5,437.28L1290,433.28zM1306.9,434.82L1300.1,434.82L1298,441.28L1303.5,445.28L1309,441.28zM1324.9,444.82L1318.1,444.82L1316,451.28L1321.5,455.28L1327,451.28zM1343.9,466.82L1337.1,466.82L1335,473.28L1340.5,477.28L1346,473.28zM1361.9,475.82L1355.1,475.82L1353,482.28L1358.5,486.28L1364,482.28zM1380.9,349.82L1374.1,349.82L1372,356.28L1377.5,360.28L1383,356.28zM1398.9,292.82L1392.1,292.82L1390,299.28L1395.5,303.28L1401,299.28zM1417.9,362.82L1411.1,362.82L1409,369.28L1414.5,373.28L1420,369.28zM1435.9,468.82L1429.1,468.82L1427,475.28L1432.5,479.28L1438,475.28zM1454.9,515.82L1448.1,515.82L1446,522.28L1451.5,526.28L1457,522.28z"/>
<text x="1290.24" y="332.70" font-size="23.6" textLength="55.75" lengthAdjust="spacingAndGlyphs">NBM</text>
<path fill="none" stroke="#ffa500" stroke-width="1" d="M1389,324.5h11M1394.5,319v11M1389,319l11,11M1389,330l11,-11M230,304.5h11M235.5,299v11M230,299l11,11M230,310l11,-11M236,340.5h11M241.5,335v11M236,335l11,11M236,346l11,-11M242,372.5h11M247.5,367v11M242,367l11,11M242,378l11,-11M248,401.5h11M253.5,396v11M248,396l11,11M248,407l11,-11M255,429.5h11M260.5,424v11M255,424l11,11M255,435l11,-11M261,444.5h11M266.5,439v11M261,439l11,11M261,450l11,-11M267,458.5h11M272.5,453v11M267,453l11,11M267,464l11,-11M273,469.5h11M278.5,464v11M273,464l11,11M273,475l11,-11M279,491.5h11M284.5,486v11M279,486l11,11M279,497l11,-11M285,491.5h11M290.5,486v11M285,486l11,11M285,497l11,-11M292,519.5h11M297.5,514v11M292,514l11,11M292,525l11,-11M298,528.5h11M303.5,523v11M298,523l11,11M298,534l11,-11M304,557.5h11M309.5,552v11M304,552l11,11M304,563l11,-11M310,572.5h11M315.5,567v11M310,567l11,11M310,578l11,-11M316,545.5h11M321.5,540v11M316,540l11,11M316,551l11,-11M322,498.5h11M327.5,493v11M322,493l11,11M322,504l11,-11M329,451.5h11M334.5,446v11M329,446l11,11M329,457l11,-11M335,399.5h11M340.5,394v11M335,394l11,11M335,405l11,-11M341,383.5h11M346.5,378v11M341,378l11,11M341,389l11,-11M347,368.5h11M352.5,363v11M347,363l11,11M347,374l11,-11M353,338.5h11M358.5,333v11M353,333l11,11M353,344l11,-11M359,350.5h11M364.5,345v11M359,345l11,11M359,356l11,-11M366,352.5h11M371.5,347v11M366,347l11,11M366,358l11,-11M372,382.5h11M377.5,377v11M372,377l11,11M372,388l11,-11M378,424.5h11M383.5,419v11M378,419l11,11M378,430l11,-11M384,463.5h11M389.5,458v11M384,458l11,11M384,469l11,-11M390,496.5h11M395.5,491v11M390,491l11,11M390,502l11,-11M396,526.5h11M401.5,521v11M396,521l11,11M396,532l11,-11M403,548.5h11M408.5,543v11M403,543l11,11M403,554l11,-11M409,576.5h11M414.5,571v11M409,571l11,11M409,582l11,-11M415,598.5h11M420.5,593v11M415,593l11,11M415,604l11,-11M421,614.5h11M426.5,609v11M421,609l11,11M421,620l11,-11M427,637.5h11M432.5,632v11M427,632l11,11M427,643l11,-11M434,662.5h11M439.5,657v11M434,657l11,11M434,668l11,-11M440,665.5h11M445.5,660v11M440,660l11,11M440,671l11,-11M446,672.5h11M451.5,667v11M446,667l11,11M446,678l11,-11M464,631.5h11M469.5,626v11M464,626l11,11M464,637l11,-11M483,458.5h11M488.5,453v11M483,453l11,11M483,464l11,-11M501,348.5h11M506.5,343v11M501,343l11,11M501,354l11,-11M520,369.5h11M525.5,364v11M520,364l11,11M520,375l11,-11M538,491.5h11M543.5,486v11M538,486l11,11M538,497l11,-11M557,565.5h11M562.5,560v11M557,560l11,11M557,571l11,-11M575,616.5h11M580.5,611v11M575,611l11,11M575,622l11,-11M594,661.5h11M599.5,656v11M594,656l11,11M594,667l11,-11M613,603.5h11M618.5,598v11M613,598l11,11M613,609l11,-11M631,444.5h11M636.5,439v11M631,439l11,11M631,450l11,-11M650,377.5h11M655.5,372v11M650,372l11,11M650,383l11,-11M668,408.5h11M673.5,403v11M668,403l11,11M668,414l11,-11M687,537.5h11M692.5,532v11M687,532l11,11M687,543l11,-11M705,600.5h11M710.5,595v11M705,595l11,11M705,606l11,-11M724,633.5h11M729.5,628v11M724,628l11,11M724,639l11,-11M742,657.5h11M747.5,652v11M742,652l11,11M742,663l11,-11M761,598.5h11M766.5,593v11M761,593l11,11M761,604l11,-11M779,427.5h11M784.5,422v11M779,422l11,11M779,433l11,-11M798,358.5h11M803.5,353v11M798,353l11,11M798,364l11,-11M816,363.5h11M821.5,358v11M816,358l11,11M816,369l11,-11M835,486.5h11M840.5,481v11M835,481l11,11M835,492l11,-11M853,552.5h11M858.5,547v11M853,547l11,11M853,558l11,-11M872,584.5h11M877.5,579v11M872,579l11,11M872,590l11,-11M890,615.5h11M895.5,610v11M890,610l11,11M890,621l11,-11M909,557.5h11M914.5,552v11M909,552l11,11M909,563l11,-11M927,379.5h11M932.5,374v11M927,374l11,11M927,385l11,-11M946,302.5h11M951.5,297v11M946,297l11,11M946,308l11,-11M964,324.5h11M969.5,319v11M964,319l11,11M964,330l11,-11M983,435.5h11M988.5,430v11M983,430l11,11M983,441l11,-11M1001,496.5h11M1006.5,491v11M1001,491l11,11M1001,502l11,-11M1020,548.5h11M1025.5,543v11M1020,543l11,11M1020,554l11,-11M1038,595.5h11M1043.5,590v11M1038,590l11,11M1038,601l11,-11M1057,531.5h11M1062.5,526v11M1057,526l11,11M1057,537l11,-11M1075,369.5h11M1080.5,364v11M1075,364l11,11M1075,375l11,-11M1094,304.5h11M1099.5,299v11M1094,299l11,11M1094,310l11,-11M1112,351.5h11M1117.5,346v11M1112,346l11,11M1112,357l11,-11M1131,465.5h11M1136.5,460v11M1131,460l11,11M1131,471l11,-11M1150,532.5h11M1155.5,527v11M1150,527l11,11M1150,538l11,-11M1168,583.5h11M1173.5,578v11M1168,578l11,11M1168,589l11,-11M1187,615.5h11M1192.5,610v11M1187,610l11,11M1187,621l11,-11M1205,558.5h11M1210.5,553v11M1205,553l11,11M1205,564l11,-11M1224,366.5h11M1229.5,361v11M1224,361l11,11M1224,372l11,-11M1242,283.5h11M1247.5,278v11M1242,278l11,11M1242,289l11,-11M1261,321.5h11M1266.5,316v11M1261,316l11,11M1261,327l11,-11M1279,423.5h11M1284.5,418v11M1279,418l11,11M1279,429l11,-11M1298,487.5h11M1303.5,482v11M1298,482l11,11M1298,493l11,-11M1316,522.5h11M1321.5,517v11M1316,517l11,11M1316,528l11,-11M1335,555.5h11M1340.5,550v11M1335,550l11,11M1335,561l11,-11M1353,494.5h11M1358.5,489v11M1353,489l11,11M1353,500l11,-11M1372,341.5h11M1377.5,336v11M1372,336l11,11M1372,347l11,-11M1390,268.5h11M1395.5,263v11M1390,263l11,11M1390,274l11,-11M1409,292.5h11M1414.5,287v11M1409,287l11,11M1409,298l11,-11M1446,476.5h11M1451.5,471v11M1446,471l11,11M1446,482l11,-11"/>
</svg>
</body></html>
